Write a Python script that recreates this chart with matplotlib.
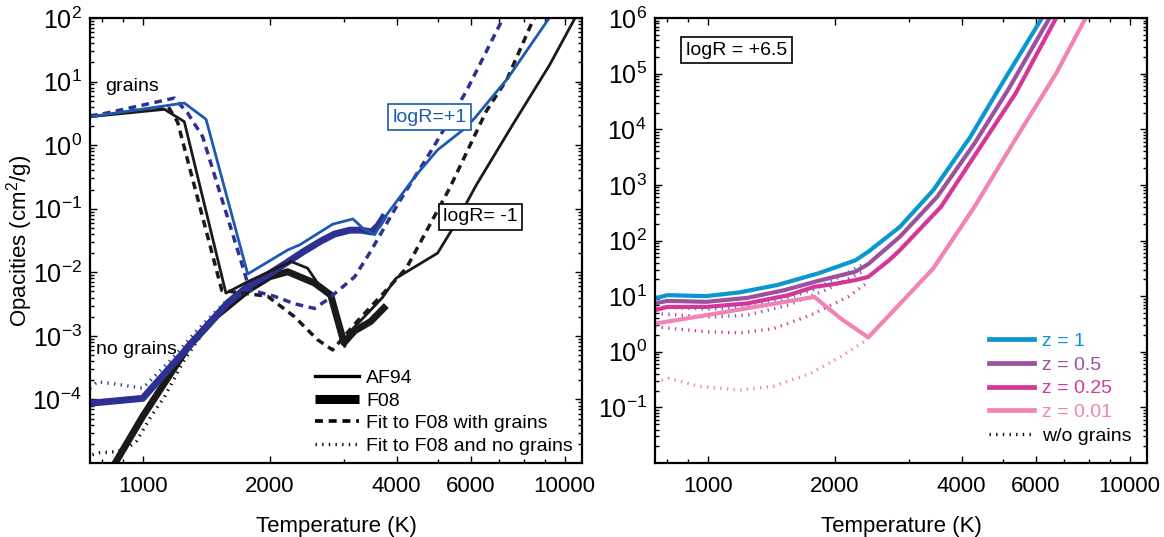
import numpy as np
import matplotlib
matplotlib.use("Agg")
import matplotlib.pyplot as plt
from matplotlib.lines import Line2D
from matplotlib.ticker import FixedLocator, FixedFormatter, NullFormatter, LogFormatterSciNotation, LogLocator

plt.rcParams['font.family'] = ['Liberation Sans', 'DejaVu Sans']
plt.rcParams['mathtext.fontset'] = 'custom'
plt.rcParams['mathtext.rm'] = 'Liberation Sans'
plt.rcParams['mathtext.it'] = 'Liberation Sans'
plt.rcParams['mathtext.bf'] = 'Liberation Sans'

# ---- left panel: logR = +1 / -1 ----
af94_p1_T = [750, 1255, 1413, 1774, 2206, 2356, 2820, 3150, 3330, 3546, 3780, 4452, 5000, 5740, 6120, 7330, 9130, 9400]
af94_p1_k = [2.8, 4.6, 2.55, 0.0094, 0.0224, 0.027, 0.057, 0.069, 0.049, 0.039, 0.079, 0.34, 0.84, 1.73, 2.65, 11.2, 93, 130]

af94_m1_T = [750, 1126, 1255, 1575, 1774, 2246, 2460, 2596, 2740, 2820, 3010, 3150, 3400, 3700, 3990, 5000, 5430, 6180, 7530, 9220, 10480, 10800]
af94_m1_k = [2.8, 3.66, 2.34, 0.0047, 0.0071, 0.0148, 0.0116, 0.0068, 0.0044, 0.004, 0.00068, 0.0013, 0.0022, 0.004, 0.0081, 0.020, 0.049, 0.237, 2.08, 18.3, 88, 130]

f08_m1_T = [840, 1000, 1167, 1278, 1500, 1774, 2000, 2206, 2552, 2790, 3000, 3180, 3470, 3780]
f08_m1_k = [7.6e-6, 5.4e-5, 2.6e-4, 6.6e-4, 2.1e-3, 5.2e-3, 8.5e-3, 0.0102, 0.0068, 0.0044, 0.00078, 0.0012, 0.00168, 0.003]

f08_p1_T = [750, 1000, 1167, 1350, 1590, 1774, 1977, 2206, 2400, 2646, 2850, 3100, 3300, 3490, 3620, 3750]
f08_p1_k = [8.7e-5, 1.04e-4, 3.3e-4, 9.8e-4, 3.3e-3, 6.0e-3, 9.1e-3, 0.0145, 0.021, 0.031, 0.040, 0.046, 0.046, 0.043, 0.055, 0.08]

fitg_p1_T = [750, 1189, 1278, 1387, 1741, 1790, 2050, 2290, 2552, 2740, 3180, 3450, 4060, 4870, 5840, 7020, 7300]
fitg_p1_k = [2.8, 5.5, 3.2, 1.36, 0.0102, 0.0053, 0.0042, 0.0032, 0.0027, 0.0037, 0.0085, 0.02, 0.13, 0.89, 6.9, 78, 130]

fitg_m1_T = [750, 1150, 1210, 1540, 1774, 1977, 2290, 2596, 2820, 3200, 3700, 4217, 5340, 6520, 7320, 8390, 8700]
fitg_m1_k = [2.9, 4.0, 2.3, 0.0052, 0.0046, 0.0042, 0.002, 0.00087, 0.0006, 0.0016, 0.0045, 0.0116, 0.21, 3.4, 11.2, 88, 130]

fitng_p1_T = [750, 780, 887, 1000, 1066, 1167, 1350, 1590]
fitng_p1_k = [1.5e-4, 1.9e-4, 1.7e-4, 1.5e-4, 2.3e-4, 4.2e-4, 1.26e-3, 3.7e-3]

fitng_m1_T = [760, 791, 858, 920, 966, 1046, 1126, 1255, 1400]
fitng_m1_k = [1.35e-5, 1.45e-5, 1.5e-5, 1.7e-5, 2.2e-5, 5.4e-5, 1.1e-4, 4.2e-4, 1.2e-3]

# ---- right panel: logR = +6.5, metallicity z ----
z_labels = ['z = 1', 'z = 0.5', 'z = 0.25', 'z = 0.01']
z1_T = [750, 802, 993, 1191, 1460, 1827, 2239, 2402, 2855, 3426, 4195, 4935, 6200, 6400]
z1_k = [9.1, 10.4, 10.0, 11.7, 15.8, 25.6, 44, 62.7, 176, 805, 7330, 58200, 1e6, 1.5e6]
z05_T = [750, 802, 993, 1241, 1520, 1827, 2239, 2402, 2855, 3500, 4290, 5150, 6460, 6700]
z05_k = [7.4, 8.2, 7.9, 9.3, 12.8, 18.8, 27.5, 37.7, 117, 611, 5570, 50700, 1e6, 1.5e6]
z025_T = [750, 802, 993, 1241, 1553, 1790, 1983, 2239, 2402, 2690, 2855, 3574, 4380, 5370, 6700, 6900]
z025_k = [5.6, 6.4, 6.4, 7.4, 10.4, 14.7, 16.4, 19.4, 22.2, 44, 67, 404, 4230, 44200, 1e6, 1.5e6]
z001_T = [750, 993, 1374, 1790, 2063, 2402, 2912, 3426, 4290, 5470, 6700, 7810, 8100]
z001_k = [3.2, 4.55, 6.9, 9.7, 4.0, 1.81, 8.5, 31.5, 404, 8430, 101000, 9e5, 1.5e6]

z1_dot_T = [750, 1000, 1200, 1500, 1800, 2100, 2340]
z1_dot_k = [6.4, 5.8, 6.3, 8.5, 13.5, 24, 38]
z05_dot_T = [750, 1000, 1241, 1553, 1900, 2330]
z05_dot_k = [4.9, 4.2, 4.55, 6.9, 12.8, 27.5]
z025_dot_T = [750, 1000, 1191, 1432, 1753, 2150, 2380]
z025_dot_k = [2.8, 2.28, 2.19, 2.6, 4.55, 9.7, 17]
z001_dot_T = [750, 810, 953, 1191, 1432, 1753, 2063, 2380]
z001_dot_k = [0.29, 0.33, 0.24, 0.204, 0.24, 0.41, 0.81, 1.62]

x_ticks = [1000, 2000, 4000, 6000, 10000]

c_thin = '#1d5aae'
c_navy = '#2e3192'
z_colors = ['#0a96cf', '#9c509e', '#d6369a', '#f283b5']

dash = (0, (2.2, 1.6))
dot = (0, (0.4, 1.6))
dot_lw = 2.4


def style_axes(ax, ymin, ymax, ymajor):
    ax.set_xscale('log')
    ax.set_yscale('log')
    ax.set_xlim(750, 11000)
    ax.set_ylim(ymin, ymax)
    ax.xaxis.set_major_locator(FixedLocator(x_ticks))
    ax.xaxis.set_major_formatter(FixedFormatter([str(t) for t in x_ticks]))
    ax.xaxis.set_minor_locator(FixedLocator([800, 900, 3000, 5000, 7000, 8000, 9000]))
    ax.xaxis.set_minor_formatter(NullFormatter())
    ax.yaxis.set_major_locator(FixedLocator(ymajor))
    ax.yaxis.set_major_formatter(LogFormatterSciNotation())
    ax.yaxis.set_minor_locator(LogLocator(base=10, subs=np.arange(2, 10), numticks=20))
    ax.yaxis.set_minor_formatter(NullFormatter())
    ax.tick_params(which='both', direction='in', top=True, right=True, width=1.0)
    ax.tick_params(which='major', length=5)
    ax.tick_params(which='minor', length=3)
    ax.tick_params(axis='x', labelsize=16, pad=9)
    ax.tick_params(axis='y', labelsize=18, pad=6)
    for s in ax.spines.values():
        s.set_linewidth(1.6)
    ax.set_xlabel('Temperature (K)', fontsize=16, labelpad=14)


fig = plt.figure(figsize=(11.64, 5.37), dpi=100)
ax1 = fig.add_axes([90 / 1164, 1 - 463 / 537, 492 / 1164, 445 / 537])
ax2 = fig.add_axes([655 / 1164, 1 - 463 / 537, 492 / 1164, 445 / 537])

# left panel
ax1.plot(fitng_m1_T, fitng_m1_k, color='k', lw=dot_lw, ls=dot)
ax1.plot(fitng_p1_T, fitng_p1_k, color=c_navy, lw=dot_lw, ls=dot)
ax1.plot(f08_m1_T, f08_m1_k, color='#1a1a1a', lw=5.0, solid_capstyle='butt')
ax1.plot(f08_p1_T, f08_p1_k, color=c_navy, lw=5.0, solid_capstyle='butt')
ax1.plot(af94_m1_T, af94_m1_k, color='#1a1a1a', lw=2.0)
ax1.plot(fitg_m1_T, fitg_m1_k, color='#1a1a1a', lw=2.5, ls=dash)
ax1.plot(fitg_p1_T, fitg_p1_k, color=c_navy, lw=2.5, ls=dash)
ax1.plot(af94_p1_T, af94_p1_k, color=c_thin, lw=2.0)

style_axes(ax1, 1e-5, 1e2, [1e-4, 1e-3, 1e-2, 1e-1, 1, 10, 100])
ax1.set_ylabel('Opacities (cm$^2$/g)', fontsize=16)
ax1.yaxis.set_label_coords(-0.112, 0.5)

ax1.text(0.03, 0.845, 'grains', transform=ax1.transAxes, fontsize=14, va='center')
ax1.text(0.012, 0.255, 'no grains', transform=ax1.transAxes, fontsize=14, va='center')
ax1.text(0.69, 0.777, 'logR=+1', transform=ax1.transAxes, fontsize=14, va='center', ha='center',
         color=c_thin, bbox=dict(boxstyle='square,pad=0.22', fc='white', ec=c_thin, lw=1.2))
ax1.text(0.793, 0.553, 'logR= -1', transform=ax1.transAxes, fontsize=14, va='center', ha='center',
         color='k', bbox=dict(boxstyle='square,pad=0.22', fc='white', ec='k', lw=1.2))

h1 = [Line2D([], [], color='k', lw=2.4),
      Line2D([], [], color='k', lw=6.5, solid_capstyle='butt'),
      Line2D([], [], color='k', lw=2.6, ls=dash),
      Line2D([], [], color='k', lw=dot_lw, ls=dot)]
ax1.legend(h1, ['AF94', 'F08', 'Fit to F08 with grains', 'Fit to F08 and no grains'],
           loc='lower right', bbox_to_anchor=(1.005, -0.008), frameon=False, fontsize=14,
           handlelength=2.3, handletextpad=0.35, labelspacing=0.26, borderaxespad=0.2)

# right panel
for T, k, c in zip([z1_dot_T, z05_dot_T, z025_dot_T, z001_dot_T],
                   [z1_dot_k, z05_dot_k, z025_dot_k, z001_dot_k], z_colors):
    ax2.plot(T, k, color=c, lw=dot_lw, ls=dot)
for T, k, c, lab in zip([z1_T, z05_T, z025_T, z001_T], [z1_k, z05_k, z025_k, z001_k],
                        z_colors, z_labels):
    ax2.plot(T, k, color=c, lw=3.0, label=lab)

style_axes(ax2, 1e-2, 1e6, [1e-1, 1, 10, 1e2, 1e3, 1e4, 1e5, 1e6])
ax2.text(0.165, 0.928, 'logR = +6.5', transform=ax2.transAxes, fontsize=14, va='center', ha='center',
         bbox=dict(boxstyle='square,pad=0.25', fc='white', ec='k', lw=1.2))

h2 = [Line2D([], [], color=c, lw=3.4) for c in z_colors] + [Line2D([], [], color='k', lw=dot_lw, ls=dot)]
ax2.legend(h2, z_labels + ['w/o grains'], loc='lower right', bbox_to_anchor=(0.993, 0.014),
           frameon=False, fontsize=14, handlelength=2.3, handletextpad=0.45, labelspacing=0.32,
           borderaxespad=0.2, labelcolor='linecolor')

fig.savefig('out.png', dpi=100)
